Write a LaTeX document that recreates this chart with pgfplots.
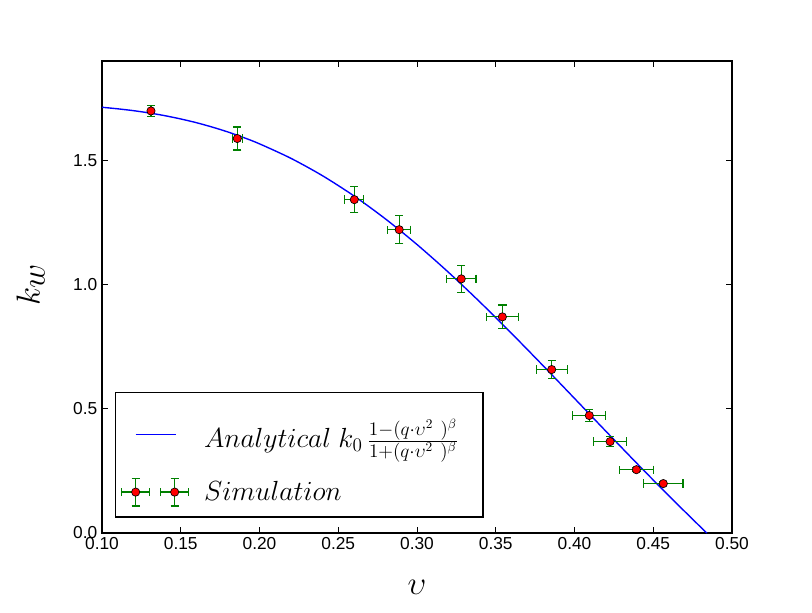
\documentclass[border=0pt]{standalone}
\usepackage{fontspec}
\setmainfont{Liberation Sans}
\usepackage{pgfplots}
\usepackage{pgfplotstable}
\pgfplotsset{compat=1.18}
\definecolor{mplgreen}{rgb}{0,0.5,0}
\definecolor{mplblue}{rgb}{0,0,1}
\definecolor{mplred}{rgb}{1,0,0}

\pgfplotstableread{
x      y      ex      ey
0.1311 1.699  0.0010  0.021
0.1859 1.588  0.0032  0.046
0.2602 1.342  0.0060  0.052
0.2887 1.221  0.0074  0.056
0.3281 1.023  0.0093  0.055
0.3542 0.870  0.0103  0.048
0.3855 0.658  0.0098  0.036
0.4094 0.473  0.0105  0.023
0.4226 0.368  0.0103  0.019
0.4393 0.255  0.0108  0.008
0.4564 0.199  0.0125  0.008
}\simdata

\pgfplotstableread{
x      y
0.100  1.7138
0.110  1.7075
0.120  1.7001
0.130  1.6909
0.140  1.6798
0.150  1.6667
0.160  1.6516
0.170  1.6340
0.180  1.6142
0.190  1.5917
0.200  1.5666
0.220  1.5081
0.240  1.4382
0.260  1.3568
0.280  1.2642
0.300  1.1613
0.320  1.0493
0.340  0.9295
0.360  0.8037
0.380  0.6739
0.400  0.5418
0.420  0.4092
0.440  0.2779
0.460  0.1492
0.480  0.0244
0.484  0.0000
}\anadata

\newcommand{\simmarker}{%
  \draw[mplgreen, line width=0.9pt] (-10.6pt,0pt) -- (10.6pt,0pt)
       (0pt,-10.4pt) -- (0pt,10.4pt)
       (-10.6pt,-3.1pt) -- (-10.6pt,3.1pt)
       (10.6pt,-3.1pt) -- (10.6pt,3.1pt)
       (-3.1pt,-10.4pt) -- (3.1pt,-10.4pt)
       (-3.1pt,10.4pt) -- (3.1pt,10.4pt);
  \filldraw[fill=mplred, draw=black, line width=0.5pt] (0pt,0pt) circle (3.1pt);%
}

\begin{document}
\begin{tikzpicture}
\path[use as bounding box] (-76.5pt,-59.25pt) rectangle (532.5pt,399.75pt);
\begin{axis}[
  at={(0pt,0pt)}, anchor=south west,
  width=472.5pt, height=354pt, scale only axis,
  xmin=0.1, xmax=0.5, ymin=0, ymax=1.9,
  xtick={0.10,0.15,0.20,0.25,0.30,0.35,0.40,0.45,0.50},
  ytick={0,0.5,1.0,1.5},
  tick align=inside, tick pos=both,
  major tick length=4.2pt,
  axis line style={line width=1.04pt},
  tick style={line width=0.6pt, black},
  /pgf/number format/assume math mode=true,
  xticklabel style={/pgf/number format/.cd, fixed, fixed zerofill, precision=2},
  yticklabel style={/pgf/number format/.cd, fixed, fixed zerofill, precision=1},
  ticklabel style={font=\fontsize{13}{15}\selectfont},
  xlabel={$\upsilon$},
  ylabel={$k_w$},
  xlabel style={at={(axis description cs:0.5,-0.1144)}, anchor=center, font=\fontsize{36}{40}\selectfont},
  ylabel style={at={(axis description cs:-0.1135,0.5254)}, anchor=center, font=\fontsize{40}{46}\selectfont},
  legend cell align=left,
  legend style={at={(axis description cs:0.0206,0.0324)}, anchor=south west,
    draw=black, line width=1.04pt, fill=white,
    inner xsep=0pt, inner ysep=3.35pt, row sep=0pt,
    nodes={inner sep=0pt, anchor=west},
    font=\fontsize{20}{24}\selectfont},
]
\addplot[mplblue, line width=1.04pt, no markers, smooth,
  legend image code/.code={%
    \draw[mplblue, line width=1.04pt] (0pt,0pt) -- (30pt,0pt);
    \path[draw=none] (-15pt,0pt) (51.3pt,0pt);}
  ] table[x=x, y=y] {\anadata};
\addlegendentry[minimum height=55.9pt]{$Analytical\ k_0\,\frac{1-(q\cdot\upsilon^2\ )^\beta}{1+(q\cdot\upsilon^2\ )^\beta}$\rule{18.5pt}{0pt}}
\addplot[only marks, mark=none,
  error bars/.cd, x dir=both, x explicit, y dir=both, y explicit,
  error bar style={draw=mplgreen, line width=0.9pt},
  error mark options={draw=mplgreen, line width=0.9pt, mark size=3.1pt, rotate=90},
  /pgfplots/legend image code/.code={%
    \begin{scope}\simmarker\end{scope}
    \begin{scope}[xshift=29.25pt]\simmarker\end{scope}
    \path[draw=none] (-15pt,0pt) (51.3pt,0pt);}
  ] table[x=x, y=y, x error=ex, y error=ey] {\simdata};
\addlegendentry[minimum height=30.7pt]{$Simulation$}
\addplot[only marks, mark=*, mark size=3.1pt, forget plot,
  mark options={fill=mplred, draw=black, line width=0.5pt}]
  table[x=x, y=y] {\simdata};
\end{axis}
\end{tikzpicture}
\end{document}
